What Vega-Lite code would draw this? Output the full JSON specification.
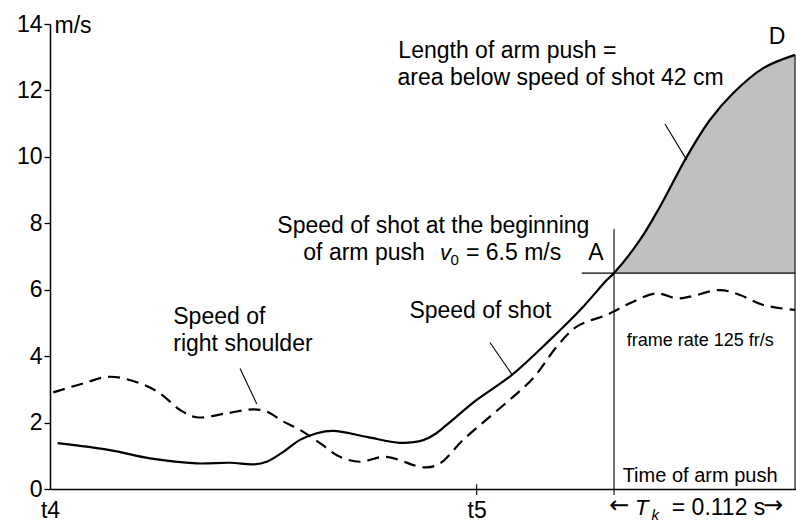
{
  "$schema": "https://vega.github.io/schema/vega-lite/v6.json",
  "width": 746,
  "height": 465,
  "autosize": {"type": "none"},
  "padding": {"left": 50, "top": 24, "right": 0, "bottom": 33},
  "background": "white",
  "config": {
    "view": {"stroke": null},
    "font": "Liberation Sans",
    "axis": {"grid": false, "domainColor": "black", "domainWidth": 1.5, "tickColor": "black", "tickWidth": 1.3, "labelColor": "black", "labelFont": "Liberation Sans", "labelFontSize": 23, "titleColor": "black"}
  },
  "datasets": {
    "shot": [
      {"t": 4.7, "v": 1.38}, {"t": 37.0, "v": 1.17}, {"t": 61.7, "v": 0.92}, {"t": 90.5, "v": 0.77},
      {"t": 111.0, "v": 0.79}, {"t": 125.4, "v": 0.74}, {"t": 133.6, "v": 0.82}, {"t": 143.9, "v": 1.12},
      {"t": 154.1, "v": 1.48}, {"t": 164.5, "v": 1.68}, {"t": 174.7, "v": 1.75}, {"t": 195.3, "v": 1.57},
      {"t": 215.8, "v": 1.39}, {"t": 230.2, "v": 1.47}, {"t": 237.0, "v": 1.64}, {"t": 244.6, "v": 1.93}, {"t": 263.1, "v": 2.68},
      {"t": 284.7, "v": 3.43}, {"t": 308.3, "v": 4.49}, {"t": 328.8, "v": 5.49}, {"t": 343.3, "v": 6.29},
      {"t": 347.8, "v": 6.5}, {"t": 363.8, "v": 7.5}, {"t": 376.1, "v": 8.5}, {"t": 392.6, "v": 10.0},
      {"t": 406.9, "v": 11.11}, {"t": 421.3, "v": 11.92}, {"t": 439.8, "v": 12.67}, {"t": 459.4, "v": 13.07}
    ],
    "shoulder": [
      {"t": 2.0, "v": 2.91}, {"t": 20.5, "v": 3.18}, {"t": 37.0, "v": 3.38}, {"t": 55.5, "v": 3.18},
      {"t": 67.8, "v": 2.88}, {"t": 80.2, "v": 2.38}, {"t": 90.5, "v": 2.16}, {"t": 109.0, "v": 2.28},
      {"t": 125.4, "v": 2.40}, {"t": 133.6, "v": 2.33}, {"t": 143.9, "v": 2.03}, {"t": 154.1, "v": 1.78},
      {"t": 166.5, "v": 1.38}, {"t": 178.8, "v": 0.97}, {"t": 191.2, "v": 0.82}, {"t": 205.5, "v": 0.97},
      {"t": 215.8, "v": 0.87}, {"t": 224.0, "v": 0.72}, {"t": 232.3, "v": 0.65}, {"t": 240.5, "v": 0.77},
      {"t": 254.8, "v": 1.48}, {"t": 271.3, "v": 2.18}, {"t": 285.7, "v": 2.78}, {"t": 298.0, "v": 3.34},
      {"t": 312.4, "v": 4.28}, {"t": 324.8, "v": 4.89}, {"t": 343.3, "v": 5.24}, {"t": 347.4, "v": 5.34},
      {"t": 359.7, "v": 5.64}, {"t": 374.1, "v": 5.89}, {"t": 386.4, "v": 5.74}, {"t": 394.6, "v": 5.79},
      {"t": 413.1, "v": 5.99}, {"t": 425.5, "v": 5.84}, {"t": 439.8, "v": 5.54}, {"t": 459.4, "v": 5.39}
    ],
    "leaders": [
      {"t": 117.2, "v": 3.63, "t2": 127.5, "v2": 2.56},
      {"t": 271.3, "v": 4.41, "t2": 285.1, "v2": 3.43},
      {"t": 379.2, "v": 10.99, "t2": 392.6, "v2": 9.91},
      {"t": 327.9, "v": 6.5, "t2": 459.4, "v2": 6.5},
      {"t": 347.8, "v": 7.83, "t2": 347.8, "v2": -0.18},
      {"t": 459.4, "v": 0, "t2": 459.4, "v2": 13.07},
      {"t": 263.1, "v": 0.14, "t2": 263.1, "v2": -0.18}
    ],
    "labels": [
      {"kind": "n", "label": "Length of arm push =", "t": 214.8, "v": 12.99},
      {"kind": "n", "label": "area below speed of shot 42 cm", "t": 214.3, "v": 12.16},
      {"kind": "n", "label": "of arm push", "t": 156.2, "v": 6.9},
      {"kind": "n", "label": "= 6.5 m/s", "t": 256.5, "v": 6.9},
      {"kind": "n", "label": "Speed of", "t": 76.0, "v": 4.97},
      {"kind": "n", "label": "right shoulder", "t": 76.0, "v": 4.16},
      {"kind": "n", "label": "Speed of shot", "t": 221.6, "v": 5.14},
      {"kind": "n", "label": "= 0.112 s", "t": 383.4, "v": -0.78},
      {"kind": "c", "label": "Speed of shot at the beginning", "t": 236.4, "v": 7.72},
      {"kind": "c", "label": "A", "t": 336.7, "v": 6.9},
      {"kind": "c", "label": "D", "t": 448.3, "v": 13.4},
      {"kind": "i", "label": "v", "t": 240.5, "v": 6.9},
      {"kind": "i", "label": "T", "t": 360.7, "v": -0.78},
      {"kind": "s", "label": "0", "t": 247.0, "v": 6.74},
      {"kind": "k", "label": "k", "t": 370.9, "v": -0.93},
      {"kind": "f", "label": "frame rate 125 fr/s", "t": 355.6, "v": 4.31},
      {"kind": "m", "label": "Time of arm push", "t": 353.1, "v": 0.22},
      {"kind": "a", "label": "←", "t": 344.8, "v": -0.51},
      {"kind": "a", "label": "→", "t": 439.7, "v": -0.51}
    ]
  },
  "encoding": {
    "x": {"field": "t", "type": "quantitative", "scale": {"domain": [0, 460], "nice": false, "zero": false},
      "axis": {"title": null, "values": [0, 263.1], "ticks": false, "labelExpr": "datum.value < 100 ? 't4' : 't5'", "labelPadding": 10, "labelFlush": false}},
    "y": {"field": "v", "type": "quantitative", "scale": {"domain": [0, 14], "nice": false},
      "axis": {"title": "m/s", "titleAngle": 0, "titleAlign": "left", "titleBaseline": "alphabetic", "titleX": 4, "titleY": 8, "titleFontSize": 23, "titleFontWeight": "normal", "titleFont": "Liberation Sans", "values": [0, 2, 4, 6, 8, 10, 12, 14], "tickSize": 6, "labelPadding": 2}}
  },
  "layer": [
    {
      "data": {"name": "shot"},
      "transform": [{"filter": "datum.t >= 347.8"}],
      "mark": {"type": "area", "interpolate": "catmull-rom", "color": "#c0c0c0", "opacity": 1},
      "encoding": {"y2": {"datum": 6.5}}
    },
    {
      "data": {"name": "leaders"},
      "mark": {"type": "rule", "color": "black", "strokeWidth": 1.1},
      "encoding": {"x2": {"field": "t2"}, "y2": {"field": "v2"}}
    },
    {
      "data": {"name": "shoulder"},
      "mark": {"type": "line", "interpolate": "catmull-rom", "color": "black", "strokeWidth": 2.2, "strokeDash": [12, 7]}
    },
    {
      "data": {"name": "shot"},
      "mark": {"type": "line", "interpolate": "catmull-rom", "color": "black", "strokeWidth": 2.2}
    },
    {
      "data": {"name": "labels"},
      "transform": [{"filter": "datum.kind == 'n'"}],
      "mark": {"type": "text", "align": "left", "baseline": "alphabetic", "fontSize": 23, "color": "black"},
      "encoding": {"text": {"field": "label"}}
    },
    {
      "data": {"name": "labels"},
      "transform": [{"filter": "datum.kind == 'c'"}],
      "mark": {"type": "text", "align": "center", "baseline": "alphabetic", "fontSize": 23, "color": "black"},
      "encoding": {"text": {"field": "label"}}
    },
    {
      "data": {"name": "labels"},
      "transform": [{"filter": "datum.kind == 'i'"}],
      "mark": {"type": "text", "align": "left", "baseline": "alphabetic", "fontSize": 22, "fontStyle": "italic", "color": "black"},
      "encoding": {"text": {"field": "label"}}
    },
    {
      "data": {"name": "labels"},
      "transform": [{"filter": "datum.kind == 's'"}],
      "mark": {"type": "text", "align": "left", "baseline": "alphabetic", "fontSize": 15, "color": "black"},
      "encoding": {"text": {"field": "label"}}
    },
    {
      "data": {"name": "labels"},
      "transform": [{"filter": "datum.kind == 'k'"}],
      "mark": {"type": "text", "align": "left", "baseline": "alphabetic", "fontSize": 15, "fontStyle": "italic", "color": "black"},
      "encoding": {"text": {"field": "label"}}
    },
    {
      "data": {"name": "labels"},
      "transform": [{"filter": "datum.kind == 'f'"}],
      "mark": {"type": "text", "align": "left", "baseline": "alphabetic", "fontSize": 18, "color": "black"},
      "encoding": {"text": {"field": "label"}}
    },
    {
      "data": {"name": "labels"},
      "transform": [{"filter": "datum.kind == 'm'"}],
      "mark": {"type": "text", "align": "left", "baseline": "alphabetic", "fontSize": 20, "color": "black"},
      "encoding": {"text": {"field": "label"}}
    },
    {
      "data": {"name": "labels"},
      "transform": [{"filter": "datum.kind == 'a'"}],
      "mark": {"type": "text", "align": "left", "baseline": "middle", "fontSize": 24, "font": "DejaVu Sans", "color": "black"},
      "encoding": {"text": {"field": "label"}}
    }
  ]
}
